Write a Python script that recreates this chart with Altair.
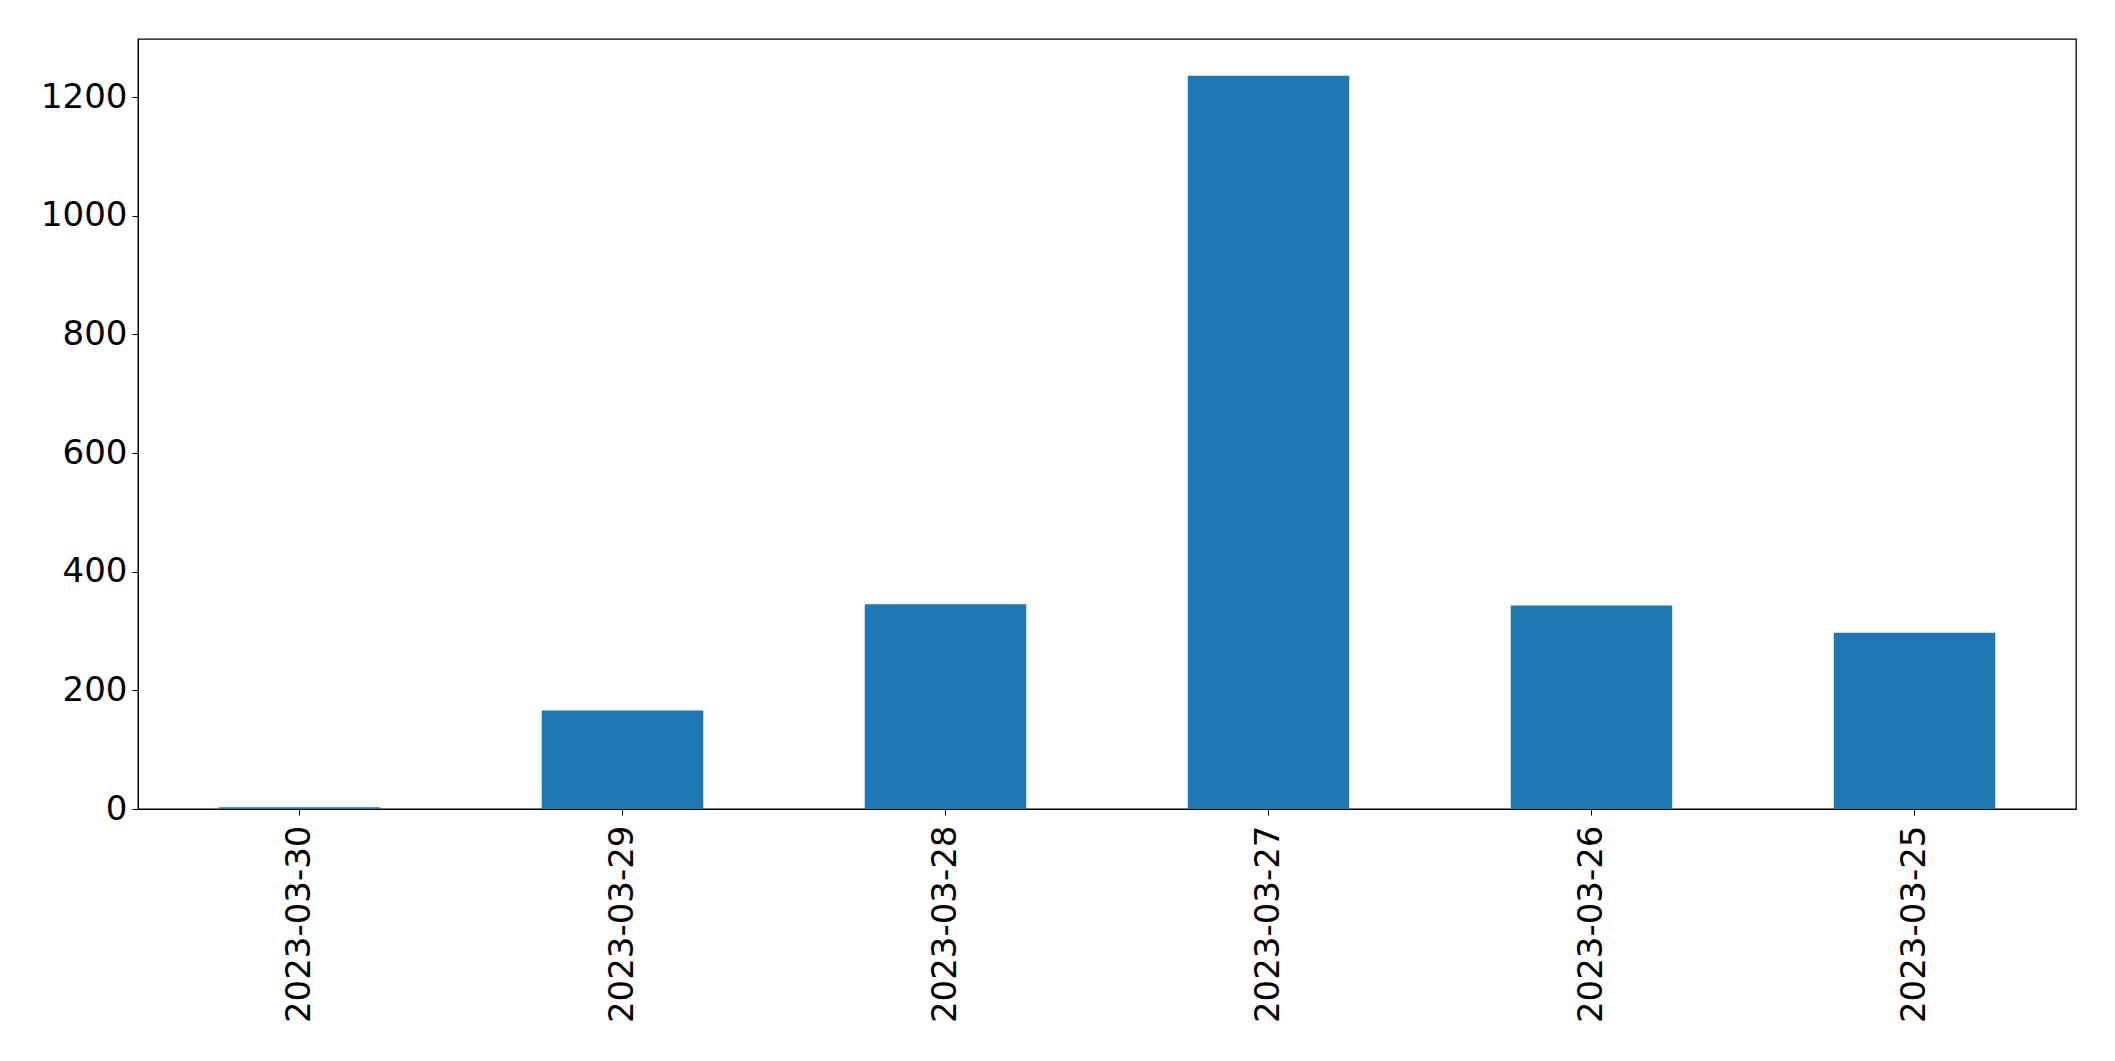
import altair as alt
import pandas as pd

dates = ["2023-03-30", "2023-03-29", "2023-03-28", "2023-03-27", "2023-03-26", "2023-03-25"]
counts = [3, 166, 345, 1236, 343, 297]

df = pd.DataFrame({"date": dates, "count": counts})

chart = alt.Chart(df).mark_bar(color="#1f77b4").encode(
    x=alt.X("date:N", sort=None, title=None,
            scale=alt.Scale(paddingInner=0.5, paddingOuter=0.25),
            axis=alt.Axis(labelAngle=270, labelAlign="right", labelBaseline="middle",
                          labelFontSize=34, labelFont="DejaVu Sans", labelColor="black",
                          labelLimit=0,
                          tickSize=6, tickColor="black", domainColor="black",
                          labelPadding=10, grid=False)),
    y=alt.Y("count:Q", title=None,
            scale=alt.Scale(domain=[0, 1298], nice=False, zero=True),
            axis=alt.Axis(values=[0, 200, 400, 600, 800, 1000, 1200], format="d",
                          labelFontSize=34,
                          labelFont="DejaVu Sans", labelColor="black",
                          tickSize=6, tickColor="black", domainColor="black",
                          labelPadding=5, grid=False)),
).properties(
    width=1938, height=770,
    autosize=alt.AutoSizeParams(type="none"),
    padding={"left": 130, "top": 31, "right": 30, "bottom": 230},
    background="white",
).configure_view(stroke="black", strokeWidth=1.3)

chart.save("out.html", embed_options={"renderer": "svg", "actions": False})
